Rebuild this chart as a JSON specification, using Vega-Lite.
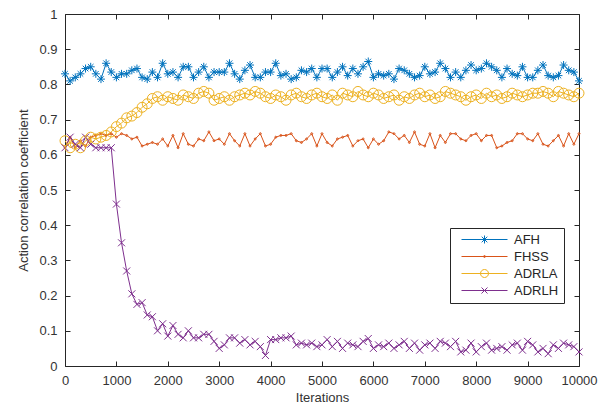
{
  "$schema": "https://vega.github.io/schema/vega-lite/v6.json",
  "width": 514,
  "height": 352,
  "autosize": {"type": "none"},
  "padding": {"left": 65, "top": 14, "right": 23, "bottom": 41},
  "background": "white",
  "config": {
    "font": "Liberation Sans",
    "view": {"stroke": "#262626", "strokeWidth": 1},
    "axis": {
      "grid": false,
      "domain": false,
      "labelFlush": false,
      "tickColor": "#262626",
      "tickSize": -5,
      "labelColor": "#333333",
      "labelFontSize": 13,
      "titleColor": "#333333",
      "titleFontSize": 13,
      "titleFontWeight": "normal"
    },
    "legend": {
      "orient": "none", "legendX": 385, "legendY": 214, "title": null,
      "strokeColor": "#262626", "fillColor": "white", "padding": 5,
      "symbolSize": 4, "symbolOffset": 23, "labelOffset": 23, "symbolStrokeWidth": 1,
      "symbolFillColor": "transparent",
      "labelFontSize": 13, "labelColor": "#262626", "rowPadding": 3
    }
  },
  "data": {
    "values": [
      {"it": 0, "AFH": 0.83, "FHSS": 0.62, "ADRLA": 0.64, "ADRLH": 0.62},
      {"it": 100, "AFH": 0.81, "FHSS": 0.65, "ADRLA": 0.62, "ADRLH": 0.65},
      {"it": 200, "AFH": 0.82, "FHSS": 0.62, "ADRLA": 0.63, "ADRLH": 0.63},
      {"it": 300, "AFH": 0.83, "FHSS": 0.64, "ADRLA": 0.62, "ADRLH": 0.62},
      {"it": 400, "AFH": 0.845, "FHSS": 0.625, "ADRLA": 0.64, "ADRLH": 0.65},
      {"it": 500, "AFH": 0.85, "FHSS": 0.65, "ADRLA": 0.65, "ADRLH": 0.63},
      {"it": 600, "AFH": 0.83, "FHSS": 0.655, "ADRLA": 0.645, "ADRLH": 0.62},
      {"it": 700, "AFH": 0.815, "FHSS": 0.66, "ADRLA": 0.65, "ADRLH": 0.62},
      {"it": 800, "AFH": 0.86, "FHSS": 0.655, "ADRLA": 0.655, "ADRLH": 0.62},
      {"it": 900, "AFH": 0.835, "FHSS": 0.66, "ADRLA": 0.665, "ADRLH": 0.62},
      {"it": 1000, "AFH": 0.82, "FHSS": 0.65, "ADRLA": 0.68, "ADRLH": 0.46},
      {"it": 1100, "AFH": 0.83, "FHSS": 0.66, "ADRLA": 0.69, "ADRLH": 0.35},
      {"it": 1200, "AFH": 0.83, "FHSS": 0.655, "ADRLA": 0.705, "ADRLH": 0.27},
      {"it": 1300, "AFH": 0.84, "FHSS": 0.645, "ADRLA": 0.71, "ADRLH": 0.205},
      {"it": 1400, "AFH": 0.845, "FHSS": 0.65, "ADRLA": 0.72, "ADRLH": 0.175},
      {"it": 1500, "AFH": 0.82, "FHSS": 0.625, "ADRLA": 0.735, "ADRLH": 0.18},
      {"it": 1600, "AFH": 0.815, "FHSS": 0.63, "ADRLA": 0.745, "ADRLH": 0.145},
      {"it": 1700, "AFH": 0.835, "FHSS": 0.635, "ADRLA": 0.76, "ADRLH": 0.14},
      {"it": 1800, "AFH": 0.82, "FHSS": 0.63, "ADRLA": 0.765, "ADRLH": 0.1},
      {"it": 1900, "AFH": 0.86, "FHSS": 0.645, "ADRLA": 0.755, "ADRLH": 0.12},
      {"it": 2000, "AFH": 0.83, "FHSS": 0.625, "ADRLA": 0.765, "ADRLH": 0.085},
      {"it": 2100, "AFH": 0.835, "FHSS": 0.655, "ADRLA": 0.76, "ADRLH": 0.115},
      {"it": 2200, "AFH": 0.82, "FHSS": 0.62, "ADRLA": 0.755, "ADRLH": 0.09},
      {"it": 2300, "AFH": 0.85, "FHSS": 0.66, "ADRLA": 0.77, "ADRLH": 0.08},
      {"it": 2400, "AFH": 0.85, "FHSS": 0.63, "ADRLA": 0.765, "ADRLH": 0.1},
      {"it": 2500, "AFH": 0.82, "FHSS": 0.625, "ADRLA": 0.76, "ADRLH": 0.08},
      {"it": 2600, "AFH": 0.835, "FHSS": 0.645, "ADRLA": 0.775, "ADRLH": 0.08},
      {"it": 2700, "AFH": 0.85, "FHSS": 0.64, "ADRLA": 0.78, "ADRLH": 0.09},
      {"it": 2800, "AFH": 0.82, "FHSS": 0.665, "ADRLA": 0.775, "ADRLH": 0.09},
      {"it": 2900, "AFH": 0.835, "FHSS": 0.64, "ADRLA": 0.755, "ADRLH": 0.07},
      {"it": 3000, "AFH": 0.835, "FHSS": 0.645, "ADRLA": 0.76, "ADRLH": 0.05},
      {"it": 3100, "AFH": 0.835, "FHSS": 0.63, "ADRLA": 0.765, "ADRLH": 0.06},
      {"it": 3200, "AFH": 0.86, "FHSS": 0.66, "ADRLA": 0.755, "ADRLH": 0.08},
      {"it": 3300, "AFH": 0.83, "FHSS": 0.64, "ADRLA": 0.765, "ADRLH": 0.08},
      {"it": 3400, "AFH": 0.815, "FHSS": 0.625, "ADRLA": 0.77, "ADRLH": 0.065},
      {"it": 3500, "AFH": 0.84, "FHSS": 0.66, "ADRLA": 0.775, "ADRLH": 0.075},
      {"it": 3600, "AFH": 0.855, "FHSS": 0.625, "ADRLA": 0.77, "ADRLH": 0.06},
      {"it": 3700, "AFH": 0.82, "FHSS": 0.645, "ADRLA": 0.78, "ADRLH": 0.07},
      {"it": 3800, "AFH": 0.82, "FHSS": 0.66, "ADRLA": 0.775, "ADRLH": 0.055},
      {"it": 3900, "AFH": 0.835, "FHSS": 0.625, "ADRLA": 0.765, "ADRLH": 0.03},
      {"it": 4000, "AFH": 0.835, "FHSS": 0.63, "ADRLA": 0.76, "ADRLH": 0.075},
      {"it": 4100, "AFH": 0.86, "FHSS": 0.65, "ADRLA": 0.77, "ADRLH": 0.075},
      {"it": 4200, "AFH": 0.825, "FHSS": 0.655, "ADRLA": 0.765, "ADRLH": 0.08},
      {"it": 4300, "AFH": 0.83, "FHSS": 0.655, "ADRLA": 0.755, "ADRLH": 0.08},
      {"it": 4400, "AFH": 0.815, "FHSS": 0.66, "ADRLA": 0.77, "ADRLH": 0.085},
      {"it": 4500, "AFH": 0.82, "FHSS": 0.64, "ADRLA": 0.775, "ADRLH": 0.06},
      {"it": 4600, "AFH": 0.84, "FHSS": 0.635, "ADRLA": 0.765, "ADRLH": 0.065},
      {"it": 4700, "AFH": 0.835, "FHSS": 0.645, "ADRLA": 0.76, "ADRLH": 0.06},
      {"it": 4800, "AFH": 0.845, "FHSS": 0.66, "ADRLA": 0.77, "ADRLH": 0.065},
      {"it": 4900, "AFH": 0.82, "FHSS": 0.625, "ADRLA": 0.775, "ADRLH": 0.055},
      {"it": 5000, "AFH": 0.845, "FHSS": 0.66, "ADRLA": 0.765, "ADRLH": 0.06},
      {"it": 5100, "AFH": 0.845, "FHSS": 0.635, "ADRLA": 0.76, "ADRLH": 0.075},
      {"it": 5200, "AFH": 0.82, "FHSS": 0.625, "ADRLA": 0.77, "ADRLH": 0.055},
      {"it": 5300, "AFH": 0.835, "FHSS": 0.645, "ADRLA": 0.755, "ADRLH": 0.07},
      {"it": 5400, "AFH": 0.85, "FHSS": 0.65, "ADRLA": 0.775, "ADRLH": 0.05},
      {"it": 5500, "AFH": 0.825, "FHSS": 0.655, "ADRLA": 0.77, "ADRLH": 0.065},
      {"it": 5600, "AFH": 0.845, "FHSS": 0.625, "ADRLA": 0.765, "ADRLH": 0.06},
      {"it": 5700, "AFH": 0.83, "FHSS": 0.64, "ADRLA": 0.78, "ADRLH": 0.055},
      {"it": 5800, "AFH": 0.85, "FHSS": 0.645, "ADRLA": 0.77, "ADRLH": 0.07},
      {"it": 5900, "AFH": 0.865, "FHSS": 0.62, "ADRLA": 0.765, "ADRLH": 0.078},
      {"it": 6000, "AFH": 0.82, "FHSS": 0.645, "ADRLA": 0.775, "ADRLH": 0.05},
      {"it": 6100, "AFH": 0.83, "FHSS": 0.63, "ADRLA": 0.77, "ADRLH": 0.06},
      {"it": 6200, "AFH": 0.825, "FHSS": 0.64, "ADRLA": 0.76, "ADRLH": 0.055},
      {"it": 6300, "AFH": 0.83, "FHSS": 0.665, "ADRLA": 0.765, "ADRLH": 0.065},
      {"it": 6400, "AFH": 0.815, "FHSS": 0.66, "ADRLA": 0.77, "ADRLH": 0.05},
      {"it": 6500, "AFH": 0.845, "FHSS": 0.645, "ADRLA": 0.755, "ADRLH": 0.06},
      {"it": 6600, "AFH": 0.84, "FHSS": 0.655, "ADRLA": 0.765, "ADRLH": 0.07},
      {"it": 6700, "AFH": 0.83, "FHSS": 0.635, "ADRLA": 0.76, "ADRLH": 0.05},
      {"it": 6800, "AFH": 0.82, "FHSS": 0.665, "ADRLA": 0.77, "ADRLH": 0.065},
      {"it": 6900, "AFH": 0.825, "FHSS": 0.63, "ADRLA": 0.775, "ADRLH": 0.045},
      {"it": 7000, "AFH": 0.85, "FHSS": 0.625, "ADRLA": 0.765, "ADRLH": 0.06},
      {"it": 7100, "AFH": 0.83, "FHSS": 0.66, "ADRLA": 0.77, "ADRLH": 0.065},
      {"it": 7200, "AFH": 0.835, "FHSS": 0.62, "ADRLA": 0.76, "ADRLH": 0.05},
      {"it": 7300, "AFH": 0.86, "FHSS": 0.655, "ADRLA": 0.765, "ADRLH": 0.07},
      {"it": 7400, "AFH": 0.845, "FHSS": 0.635, "ADRLA": 0.78, "ADRLH": 0.065},
      {"it": 7500, "AFH": 0.82, "FHSS": 0.66, "ADRLA": 0.775, "ADRLH": 0.055},
      {"it": 7600, "AFH": 0.835, "FHSS": 0.66, "ADRLA": 0.77, "ADRLH": 0.07},
      {"it": 7700, "AFH": 0.82, "FHSS": 0.645, "ADRLA": 0.765, "ADRLH": 0.04},
      {"it": 7800, "AFH": 0.84, "FHSS": 0.64, "ADRLA": 0.755, "ADRLH": 0.045},
      {"it": 7900, "AFH": 0.855, "FHSS": 0.655, "ADRLA": 0.765, "ADRLH": 0.065},
      {"it": 8000, "AFH": 0.84, "FHSS": 0.66, "ADRLA": 0.77, "ADRLH": 0.04},
      {"it": 8100, "AFH": 0.845, "FHSS": 0.64, "ADRLA": 0.76, "ADRLH": 0.055},
      {"it": 8200, "AFH": 0.86, "FHSS": 0.655, "ADRLA": 0.775, "ADRLH": 0.065},
      {"it": 8300, "AFH": 0.85, "FHSS": 0.655, "ADRLA": 0.765, "ADRLH": 0.045},
      {"it": 8400, "AFH": 0.84, "FHSS": 0.62, "ADRLA": 0.77, "ADRLH": 0.05},
      {"it": 8500, "AFH": 0.82, "FHSS": 0.625, "ADRLA": 0.76, "ADRLH": 0.055},
      {"it": 8600, "AFH": 0.845, "FHSS": 0.635, "ADRLA": 0.765, "ADRLH": 0.045},
      {"it": 8700, "AFH": 0.83, "FHSS": 0.64, "ADRLA": 0.775, "ADRLH": 0.06},
      {"it": 8800, "AFH": 0.825, "FHSS": 0.66, "ADRLA": 0.77, "ADRLH": 0.065},
      {"it": 8900, "AFH": 0.85, "FHSS": 0.66, "ADRLA": 0.765, "ADRLH": 0.045},
      {"it": 9000, "AFH": 0.82, "FHSS": 0.645, "ADRLA": 0.77, "ADRLH": 0.07},
      {"it": 9100, "AFH": 0.82, "FHSS": 0.64, "ADRLA": 0.775, "ADRLH": 0.06},
      {"it": 9200, "AFH": 0.84, "FHSS": 0.66, "ADRLA": 0.775, "ADRLH": 0.04},
      {"it": 9300, "AFH": 0.855, "FHSS": 0.63, "ADRLA": 0.78, "ADRLH": 0.05},
      {"it": 9400, "AFH": 0.825, "FHSS": 0.625, "ADRLA": 0.775, "ADRLH": 0.035},
      {"it": 9500, "AFH": 0.82, "FHSS": 0.64, "ADRLA": 0.765, "ADRLH": 0.06},
      {"it": 9600, "AFH": 0.825, "FHSS": 0.655, "ADRLA": 0.78, "ADRLH": 0.05},
      {"it": 9700, "AFH": 0.855, "FHSS": 0.625, "ADRLA": 0.775, "ADRLH": 0.065},
      {"it": 9800, "AFH": 0.84, "FHSS": 0.66, "ADRLA": 0.77, "ADRLH": 0.06},
      {"it": 9900, "AFH": 0.835, "FHSS": 0.63, "ADRLA": 0.765, "ADRLH": 0.055},
      {"it": 10000, "AFH": 0.81, "FHSS": 0.66, "ADRLA": 0.775, "ADRLH": 0.04}
    ]
  },
  "transform": [{"fold": ["AFH", "FHSS", "ADRLA", "ADRLH"], "as": ["series", "value"]}],
  "layer": [
    {
      "mark": {"type": "line", "strokeWidth": 1, "clip": true},
      "encoding": {
        "x": {"field": "it", "type": "quantitative", "scale": {"domain": [0, 10000], "nice": false},
              "axis": {"orient": "top", "labels": false, "title": null, "values": [0,1000,2000,3000,4000,5000,6000,7000,8000,9000,10000]}},
        "y": {"field": "value", "type": "quantitative", "scale": {"domain": [0, 1], "nice": false},
              "axis": {"orient": "right", "labels": false, "title": null, "values": [0,0.1,0.2,0.3,0.4,0.5,0.6,0.7,0.8,0.9,1]}},
        "color": {"field": "series", "type": "nominal",
                  "scale": {"domain": ["AFH", "FHSS", "ADRLA", "ADRLH"], "range": ["#0072BD", "#D95319", "#EDB120", "#7E2F8E"]},
                  "legend": {"symbolType": {"expr": "datum.value === 'AFH' ? 'M-23,0L23,0M0,-4L0,4M-4,0L4,0M-2.8,-2.8L2.8,2.8M-2.8,2.8L2.8,-2.8' : datum.value === 'FHSS' ? 'M-23,0L23,0M-1,0A1,1 0 1,0 1,0A1,1 0 1,0 -1,0' : datum.value === 'ADRLA' ? 'M-23,0L23,0M-4,0A4,4 0 1,0 4,0A4,4 0 1,0 -4,0' : 'M-23,0L23,0M-3,-3L3,3M-3,3L3,-3'"}}}
      }
    },
    {
      "mark": {"type": "point", "filled": false, "strokeWidth": 1, "size": 4, "opacity": 1,
               "shape": {"expr": "datum.series ? (datum.series === 'AFH' ? 'M0,-4L0,4M-4,0L4,0M-2.8,-2.8L2.8,2.8M-2.8,2.8L2.8,-2.8' : datum.series === 'FHSS' ? 'M-1,0A1,1 0 1,0 1,0A1,1 0 1,0 -1,0' : datum.series === 'ADRLA' ? 'M-5,0A5,5 0 1,0 5,0A5,5 0 1,0 -5,0' : 'M-3.5,-3.5L3.5,3.5M-3.5,3.5L3.5,-3.5') : (datum.value === 'AFH' ? 'M-23,0L23,0M0,-4L0,4M-4,0L4,0M-2.8,-2.8L2.8,2.8M-2.8,2.8L2.8,-2.8' : datum.value === 'FHSS' ? 'M-23,0L23,0M-1,0A1,1 0 1,0 1,0A1,1 0 1,0 -1,0' : datum.value === 'ADRLA' ? 'M-23,0L23,0M-4,0A4,4 0 1,0 4,0A4,4 0 1,0 -4,0' : 'M-23,0L23,0M-3,-3L3,3M-3,3L3,-3')"}},
      "encoding": {
        "x": {"field": "it", "type": "quantitative",
              "axis": {"orient": "bottom", "title": "Iterations", "format": "d", "labelPadding": 13, "titlePadding": 4,
                       "values": [0,1000,2000,3000,4000,5000,6000,7000,8000,9000,10000]}},
        "y": {"field": "value", "type": "quantitative",
              "axis": {"orient": "left", "title": "Action correlation coefficient", "format": "~f", "labelPadding": 13, "titlePadding": 8,
                       "values": [0,0.1,0.2,0.3,0.4,0.5,0.6,0.7,0.8,0.9,1]}},
        "color": {"field": "series", "type": "nominal",
                  "scale": {"domain": ["AFH", "FHSS", "ADRLA", "ADRLH"], "range": ["#0072BD", "#D95319", "#EDB120", "#7E2F8E"]},
                  "legend": {"symbolType": {"expr": "datum.value === 'AFH' ? 'M-23,0L23,0M0,-4L0,4M-4,0L4,0M-2.8,-2.8L2.8,2.8M-2.8,2.8L2.8,-2.8' : datum.value === 'FHSS' ? 'M-23,0L23,0M-1,0A1,1 0 1,0 1,0A1,1 0 1,0 -1,0' : datum.value === 'ADRLA' ? 'M-23,0L23,0M-4,0A4,4 0 1,0 4,0A4,4 0 1,0 -4,0' : 'M-23,0L23,0M-3,-3L3,3M-3,3L3,-3'"}}}
      }
    }
  ]
}
